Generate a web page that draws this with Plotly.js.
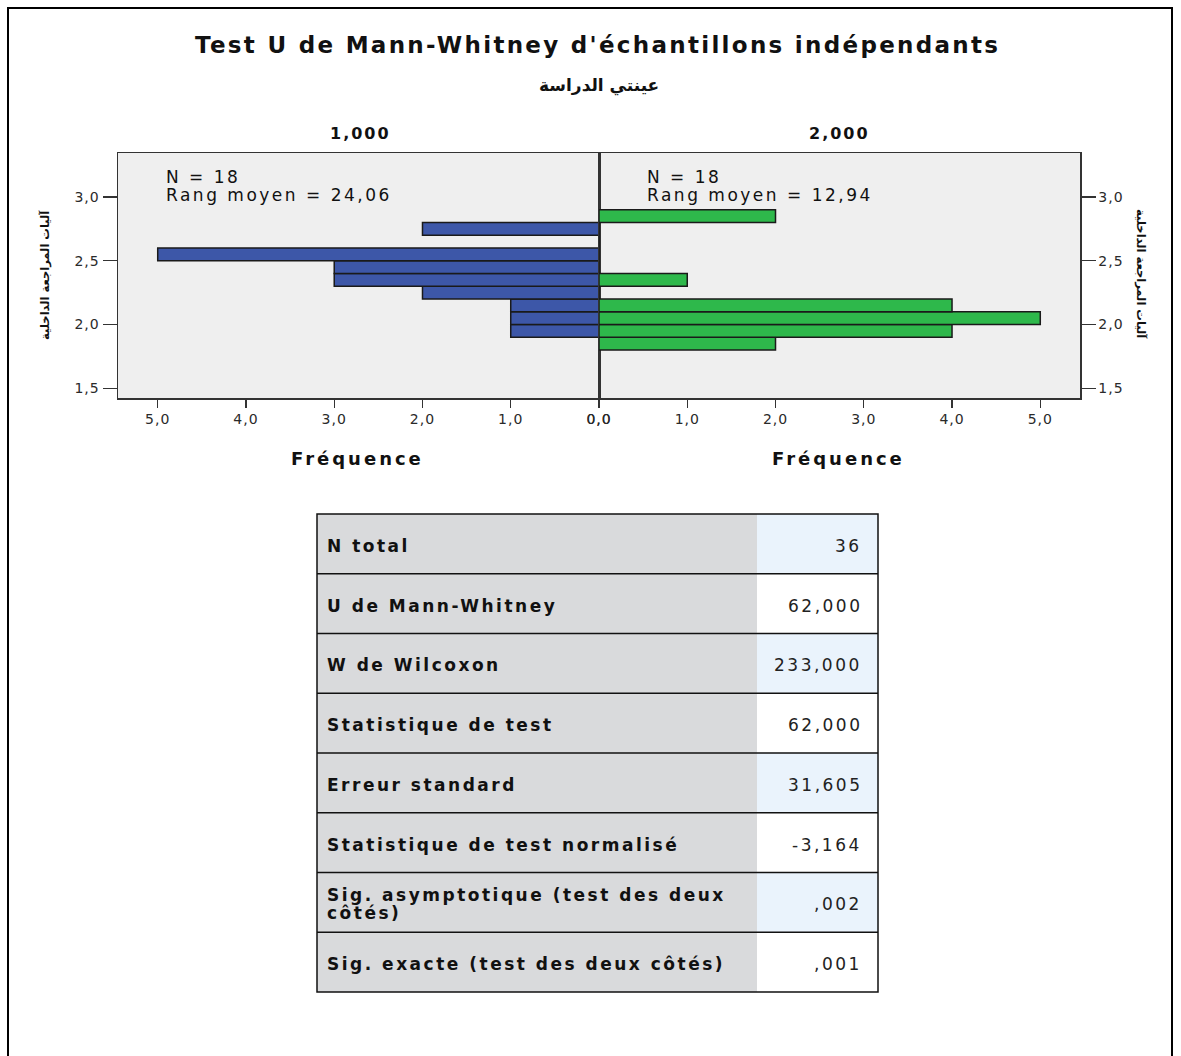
<!DOCTYPE html>
<html>
<head>
<meta charset="utf-8">
<script src="https://cdn.plot.ly/plotly-3.0.1.min.js"></script>
<style>html,body{margin:0;padding:0;background:#fff;}</style>
</head>
<body>
<div id="chart" style="width:1181px;height:1056px;"></div>
<script>
// ---- data ----
const binCenters = [1.85, 1.95, 2.05, 2.15, 2.25, 2.35, 2.45, 2.55, 2.65, 2.75, 2.85];
const freqGroup1 = [0, 1, 1, 1, 2, 3, 3, 5, 0, 2, 0];
const freqGroup2 = [2, 4, 5, 4, 0, 1, 0, 0, 0, 0, 2];
const groupLabels = ['1,000', '2,000'];
const groupN = [18, 18];
const meanRanks = ['24,06', '12,94'];
const xTickVals = [0, 1, 2, 3, 4, 5];
const xTickLabels = ['0,0', '1,0', '2,0', '3,0', '4,0', '5,0'];
const yTickVals = [1.5, 2.0, 2.5, 3.0];
const yTickLabels = ['1,5', '2,0', '2,5', '3,0'];
const tableLabels = [
  'N total',
  'U de Mann-Whitney',
  'W de Wilcoxon',
  'Statistique de test',
  'Erreur standard',
  'Statistique de test normalisé',
  'Sig. asymptotique (test des deux<br>côtés)',
  'Sig. exacte (test des deux côtés)'
];
const tableValues = ['36', '62,000', '233,000', '62,000', '31,605', '-3,164', ',002', ',001'];
const chartTitle = "Test U de Mann-Whitney d'échantillons indépendants";
const subTitle = 'عينتي الدراسة';
const yTitle = 'آليات المراجعة الداخلية';
const xTitle = 'Fréquence';

// ---- layout helpers (pixel -> paper) ----
const W = 1181, H = 1056;
const px = x => x / W;
const py = y => 1 - y / H;
const FONT = 'DejaVu Sans, Liberation Sans, sans-serif';
const sp = (t, n) => '<span style="letter-spacing:' + n + 'px">' + t + '</span>';

const barLine = {color: '#1a1a1a', width: 1.5};
const traces = [
  {type: 'bar', orientation: 'h', y: binCenters, x: freqGroup1, width: 0.1,
   marker: {color: '#3D57A8', line: barLine}, xaxis: 'x', yaxis: 'y', hoverinfo: 'x+y'},
  {type: 'bar', orientation: 'h', y: binCenters, x: freqGroup2, width: 0.1,
   marker: {color: '#2EB84B', line: barLine}, xaxis: 'x2', yaxis: 'y2', hoverinfo: 'x+y'}
];

const plotL = 118, plotMid = 599, plotR = 1080, plotT = 153, plotB = 398;
const yRange = [1.424, 3.344];
const tickFont = {family: FONT, size: 14, color: '#2a2a2a'};

const axisX = {
  showgrid: false, zeroline: false, showline: true, mirror: true, linecolor: '#333', linewidth: 1.5,
  ticks: 'outside', ticklen: 8, tickcolor: '#333', tickwidth: 1.2,
  tickmode: 'array', tickvals: xTickVals, ticktext: xTickLabels.map(t => sp(t, 1)),
  tickfont: tickFont, fixedrange: true
};
const axisY = {
  showgrid: false, zeroline: false, showline: true, mirror: true, linecolor: '#333', linewidth: 1.5,
  ticks: 'outside', ticklen: 14, tickcolor: '#333', tickwidth: 1.2,
  tickmode: 'array', tickvals: yTickVals, ticktext: yTickLabels.map(t => sp(t, 1)),
  tickfont: tickFont, range: yRange, fixedrange: true
};

function ann(text, x, y, opts) {
  return Object.assign({text: text, x: px(x), y: py(y), xref: 'paper', yref: 'paper', showarrow: false,
    xanchor: 'center', yanchor: 'middle', font: {family: FONT, size: 16, color: '#111'}}, opts || {});
}

const annotations = [
  ann('<b>' + sp(chartTitle, 2.3) + '</b>', 597, 45, {font: {family: FONT, size: 23, color: '#111'}}),
  ann('<b>' + subTitle + '</b>', 599, 86, {font: {family: FONT, size: 17, color: '#111'}}),
  ann('<b>' + sp(groupLabels[0], 2) + '</b>', 360, 133, {font: {family: FONT, size: 16, color: '#111'}}),
  ann('<b>' + sp(groupLabels[1], 2) + '</b>', 839, 133, {font: {family: FONT, size: 16, color: '#111'}}),
  ann(sp('N = ' + groupN[0], 2.5), 164, 177, {xanchor: 'left', font: {family: FONT, size: 17, color: '#111'}}),
  ann(sp('Rang moyen = ' + meanRanks[0], 2.5), 164, 195, {xanchor: 'left', font: {family: FONT, size: 17, color: '#111'}}),
  ann(sp('N = ' + groupN[1], 2.5), 645, 177, {xanchor: 'left', font: {family: FONT, size: 17, color: '#111'}}),
  ann(sp('Rang moyen = ' + meanRanks[1], 2.5), 645, 195, {xanchor: 'left', font: {family: FONT, size: 17, color: '#111'}}),
  ann('<b>' + sp(xTitle, 3) + '</b>', 358, 459, {font: {family: FONT, size: 18, color: '#111'}}),
  ann('<b>' + sp(xTitle, 3) + '</b>', 838, 459, {font: {family: FONT, size: 18, color: '#111'}}),
  ann('<b>' + yTitle + '</b>', 45, 275, {textangle: -90, font: {family: FONT, size: 11.5, color: '#111'}}),
  ann('<b>' + yTitle + '</b>', 1141, 274, {textangle: 90, font: {family: FONT, size: 11.5, color: '#111'}})
];

// ---- table built from the arrays ----
const tL = 317, tMid = 757, tR = 878, tT = 514, tB = 992;
const rowH = (tB - tT) / tableLabels.length;
const shapes = [];
tableLabels.forEach((lab, i) => {
  const y0 = tT + i * rowH, y1 = y0 + rowH, yc = (y0 + y1) / 2 + 2;
  shapes.push({type: 'rect', xref: 'paper', yref: 'paper', x0: px(tL), x1: px(tMid), y0: py(y1), y1: py(y0),
    fillcolor: '#D9DADC', line: {width: 0}, layer: 'below'});
  shapes.push({type: 'rect', xref: 'paper', yref: 'paper', x0: px(tMid), x1: px(tR), y0: py(y1), y1: py(y0),
    fillcolor: i % 2 === 0 ? '#EAF3FC' : '#FFFFFF', line: {width: 0}, layer: 'below'});
  if (i > 0) shapes.push({type: 'line', xref: 'paper', yref: 'paper', x0: px(tL), x1: px(tR), y0: py(y0), y1: py(y0),
    line: {color: '#111', width: 1.5}});
  const lines = lab.split('<br>');
  lines.forEach((ln, k) => {
    const ly = yc + (k - (lines.length - 1) / 2) * 18;
    annotations.push(ann('<b>' + sp(ln, 2.5) + '</b>', 325, ly,
      {xanchor: 'left', align: 'left', font: {family: FONT, size: 17, color: '#111'}}));
  });
  annotations.push(ann(sp(tableValues[i], 2.5), 864, yc,
    {xanchor: 'right', align: 'right', font: {family: FONT, size: 17, color: '#222'}}));
});
shapes.push({type: 'rect', xref: 'paper', yref: 'paper', x0: px(tL), x1: px(tR), y0: py(tB), y1: py(tT),
  line: {color: '#111', width: 1.5}});
// outer frame
shapes.push({type: 'rect', xref: 'paper', yref: 'paper', x0: px(8), x1: px(1172), y0: -0.05, y1: py(8),
  line: {color: '#000', width: 2}});

const layout = {
  width: W, height: H,
  margin: {l: 0, r: 0, t: 0, b: 0},
  paper_bgcolor: '#FFFFFF', plot_bgcolor: '#EFEFEF',
  separators: ', ',
  showlegend: false, bargap: 0,
  font: {family: FONT},
  xaxis: Object.assign({}, axisX, {domain: [px(plotL), px(plotMid)], range: [5.45, 0], anchor: 'y'}),
  xaxis2: Object.assign({}, axisX, {domain: [px(plotMid), px(plotR)], range: [0, 5.45], anchor: 'y2'}),
  yaxis: Object.assign({}, axisY, {domain: [py(plotB), py(plotT)], anchor: 'x', side: 'left'}),
  yaxis2: Object.assign({}, axisY, {domain: [py(plotB), py(plotT)], anchor: 'x2', side: 'right'}),
  annotations: annotations,
  shapes: shapes
};

Plotly.newPlot('chart', traces, layout, {displayModeBar: false, staticPlot: true});
</script>
</body>
</html>
